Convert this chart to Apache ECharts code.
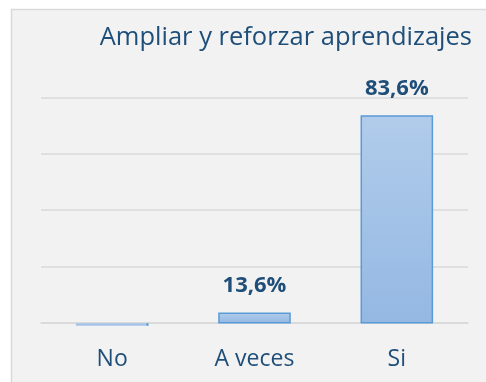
<!DOCTYPE html>
<html>
<head>
<meta charset="utf-8">
<style>
  html, body { margin: 0; padding: 0; background: #ffffff; }
  #chart { width: 486px; height: 382px; }
</style>
<script src="https://cdn.jsdelivr.net/npm/echarts@6/dist/echarts.min.js"></script>
</head>
<body>
<div id="chart"></div>
<script>
// Survey answers, in percent
const categories = ['No', 'A veces', 'Si'];
const values = [2.8, 13.6, 83.6];
const valueLabels = ['', '13,6%', '83,6%'];

// Value axis range; gridlines every 20 points from 10 to 90
const Y_MIN = 10;
const Y_MAX = 90;
const GRID_STEPS = 4;

const textColor = '#1f4e79';
const font = '"Open Sans", "Noto Sans", sans-serif';
const BAR_SHARE = 0.51;

const chart = echarts.init(document.getElementById('chart'), null, { renderer: 'canvas' });

chart.setOption({
  backgroundColor: '#ffffff',
  animation: false,
  graphic: [{
    type: 'rect',
    z: -10,
    shape: { x: 11.5, y: 9.5, width: 490, height: 390 },
    style: { fill: '#f2f2f2', stroke: '#d9d9d9', lineWidth: 1.5 }
  }],
  title: {
    text: 'Ampliar y reforzar aprendizajes',
    right: 9,
    top: 20,
    textStyle: { color: textColor, fontFamily: font, fontWeight: 'normal', fontSize: 25.5 }
  },
  grid: { left: 41, right: 18, top: 97.3, bottom: 59.3, containLabel: false },
  xAxis: {
    type: 'category',
    data: categories,
    axisLine: { show: true, lineStyle: { color: '#d9d9d9', width: 1.5 } },
    axisTick: { show: false },
    axisLabel: { color: textColor, fontFamily: font, fontSize: 23, margin: 25 }
  },
  yAxis: [{
    type: 'value',
    min: Y_MIN,
    max: Y_MAX,
    axisLine: { show: false },
    axisTick: { show: false },
    axisLabel: { show: false },
    splitLine: { show: false }
  }, {
    // carries only the gridlines, evenly spaced over the plot height
    type: 'value',
    min: 0,
    max: GRID_STEPS,
    interval: 1,
    position: 'left',
    axisLine: { show: false },
    axisTick: { show: false },
    axisLabel: { show: false },
    splitLine: { show: true, lineStyle: { color: '#d9d9d9', width: 1.5 } }
  }],
  series: [{
    type: 'bar',
    yAxisIndex: 0,
    data: values.map((v, i) => ({ value: v, label: { formatter: valueLabels[i] } })),
    barWidth: (BAR_SHARE * 100) + '%',
    clip: true,
    itemStyle: {
      color: new echarts.graphic.LinearGradient(0, 0, 0, 1, [
        { offset: 0, color: '#b1cceb' },
        { offset: 1, color: '#94b8e3' }
      ]),
      borderColor: '#5b9bd5',
      borderWidth: 1.5
    },
    label: {
      show: true,
      position: 'top',
      distance: 16,
      color: textColor,
      fontFamily: font,
      fontWeight: 'bold',
      fontSize: 22
    }
  }, {
    // a bar that falls below the axis floor shows only as a thin stub under the baseline
    type: 'custom',
    yAxisIndex: 0,
    clip: false,
    z: 3,
    data: values.map((v, i) => [i, v]),
    renderItem: function (params, api) {
      const v = api.value(1);
      if (v >= Y_MIN) return null;
      const base = api.coord([api.value(0), Y_MIN]);
      const w = api.size([1, 0])[0] * BAR_SHARE;
      return {
        type: 'group',
        children: [{
          type: 'rect',
          shape: { x: base[0] - w / 2, y: base[1] + 0.5, width: w, height: 2.5 },
          style: { fill: '#a6c4e8' }
        }, {
          type: 'rect',
          shape: { x: base[0] + w / 2 - 2, y: base[1] + 0.5, width: 2, height: 2.5 },
          style: { fill: '#5b9bd5' }
        }]
      };
    }
  }]
});
</script>
</body>
</html>
